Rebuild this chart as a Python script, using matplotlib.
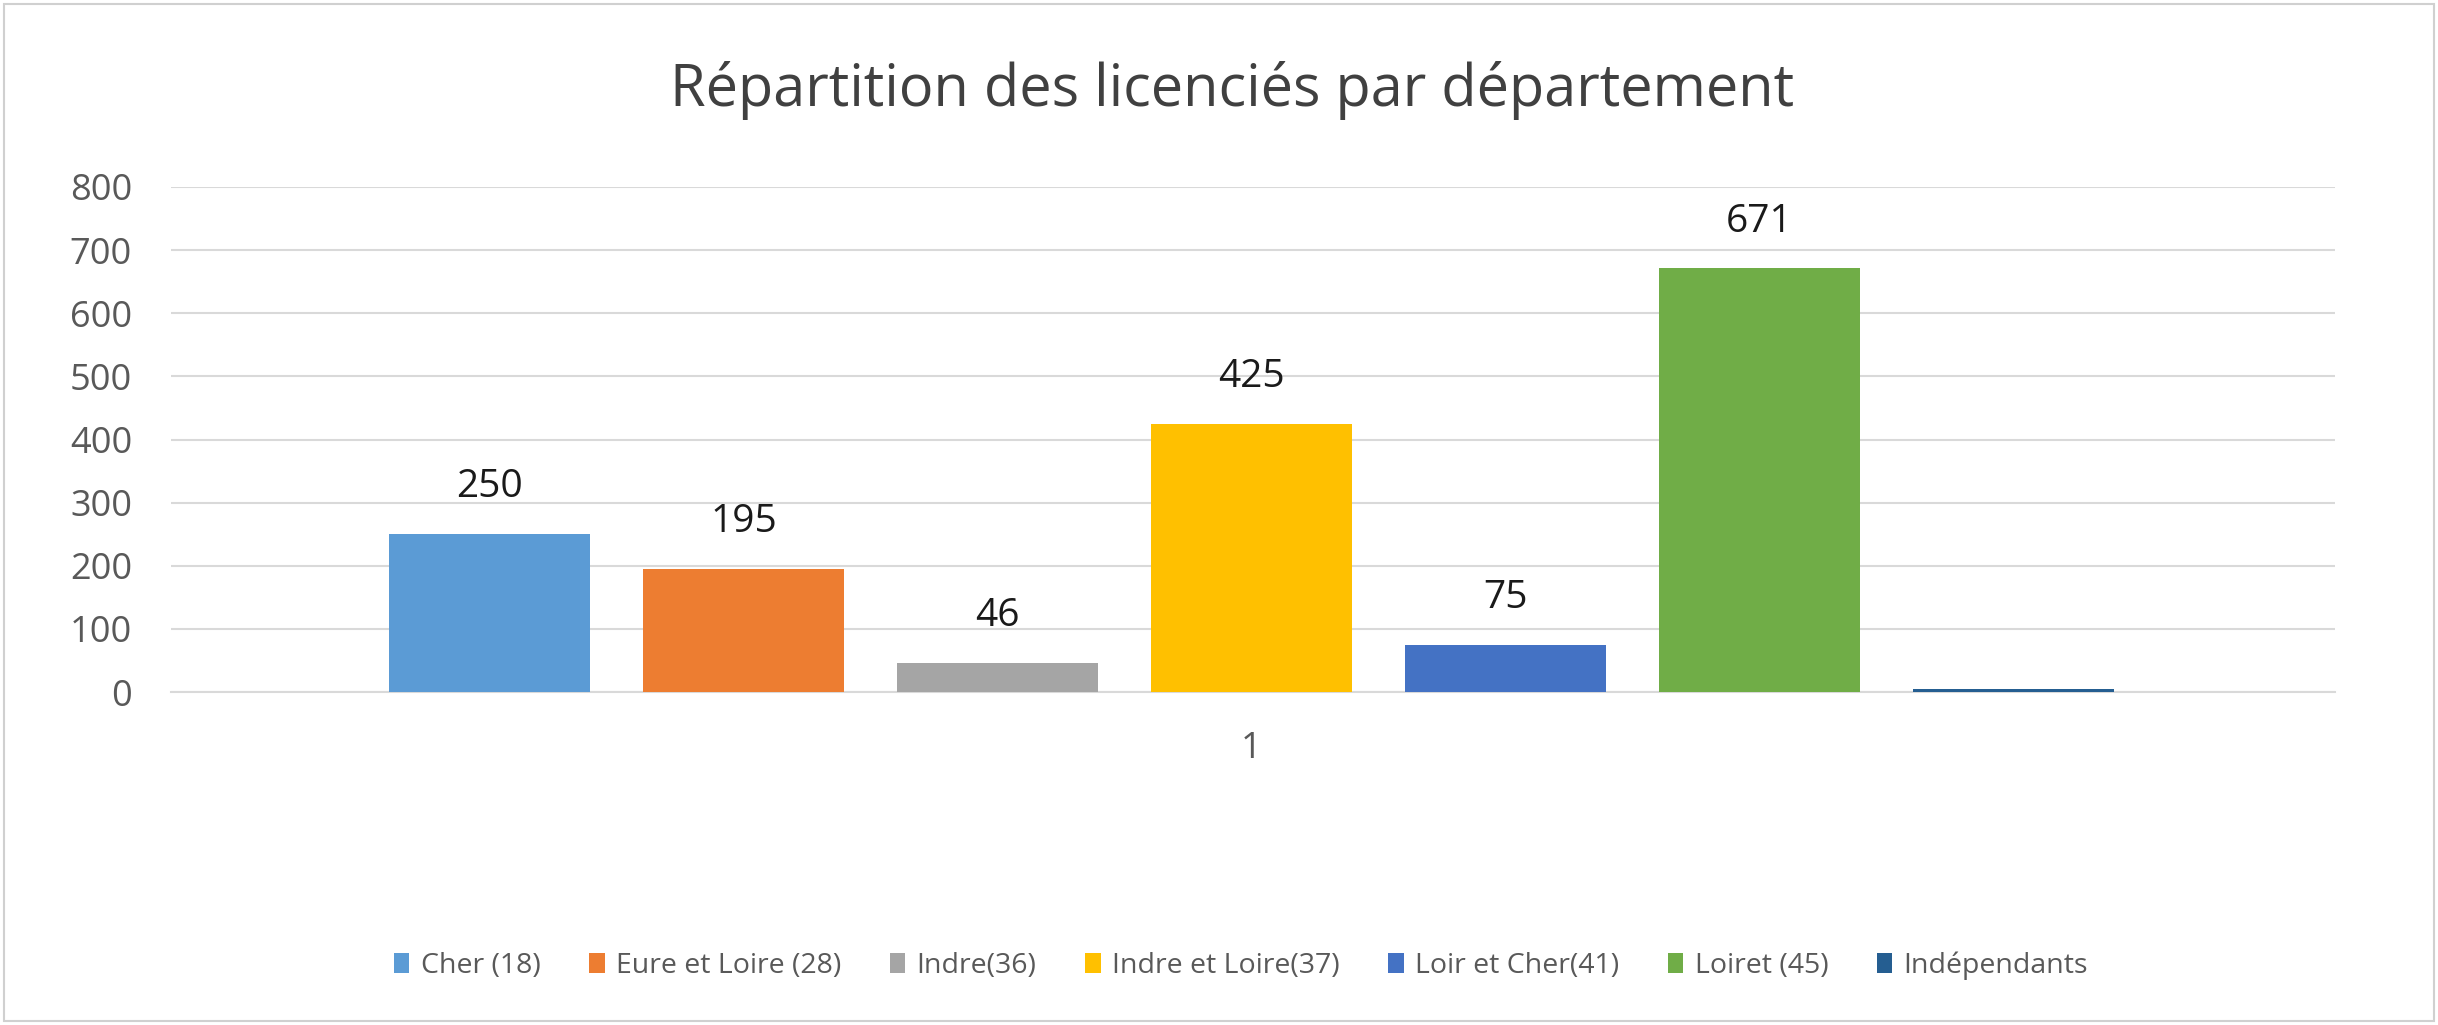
import matplotlib.pyplot as plt
import numpy as np

# data
departements = ["Cher (18)", "Eure et Loire (28)", "Indre(36)", "Indre et Loire(37)",
                "Loir et Cher(41)", "Loiret (45)", "Indépendants"]
licencies = [250, 195, 46, 425, 75, 671, 5]
show_label = [True, True, True, True, True, True, False]
couleurs = ["#5B9BD5", "#ED7D31", "#A5A5A5", "#FFC000", "#4472C4", "#70AD47", "#255E91"]
y_ticks = [0, 100, 200, 300, 400, 500, 600, 700, 800]

plt.rcParams['font.family'] = ['Open Sans', 'DejaVu Sans']

fig = plt.figure(figsize=(24.38, 10.25), dpi=100)
ax = fig.add_axes([171/2438, 1 - 692/1025, (2335-171)/2438, (692-187)/1025])

x = np.arange(len(licencies))
for i in range(len(licencies)):
    ax.bar(x[i], licencies[i], width=0.79, color=couleurs[i], label=departements[i], zorder=3)
    if show_label[i]:
        ax.annotate(str(licencies[i]), (x[i], licencies[i]), xytext=(0, 20), textcoords="offset points",
                    ha="center", va="bottom", fontsize=28, color="#1a1a1a")

ax.set_xlim(-1.254, 7.266)
ax.set_ylim(0, 800)
ax.set_yticks(y_ticks)
ax.set_yticklabels([str(v) for v in y_ticks], fontsize=26, color="#595959")
ax.set_xticks([x.mean()])
ax.set_xticklabels(["1"], fontsize=26, color="#595959")
ax.tick_params(axis="both", length=0)
ax.tick_params(axis="y", pad=28)
ax.tick_params(axis="x", pad=28)
ax.grid(axis="y", color="#D9D9D9", lw=1.5, zorder=0)
for s in ["top", "right", "left"]:
    ax.spines[s].set_visible(False)
ax.spines["bottom"].set_color("#D9D9D9")
ax.spines["bottom"].set_linewidth(1.5)

fig.text(0.5054, 1 - 90/1025, "Répartition des licenciés par département", ha="center", va="center",
         fontsize=41.5, color="#404040")

fig.legend(loc="center", bbox_to_anchor=(0.509, 1 - 966/1025), ncol=7, frameon=False,
           fontsize=20.5, handlelength=0.55, handleheight=0.7, handletextpad=0.4, columnspacing=1.7,
           labelcolor="#595959")

# border around the chart
fig.patches.append(plt.Rectangle((4/2438, 4/1025), 1 - 8/2438, 1 - 8/1025, transform=fig.transFigure,
                                 fill=False, edgecolor="#D0D0D0", lw=1.5))

fig.savefig("out.png", dpi=100)
